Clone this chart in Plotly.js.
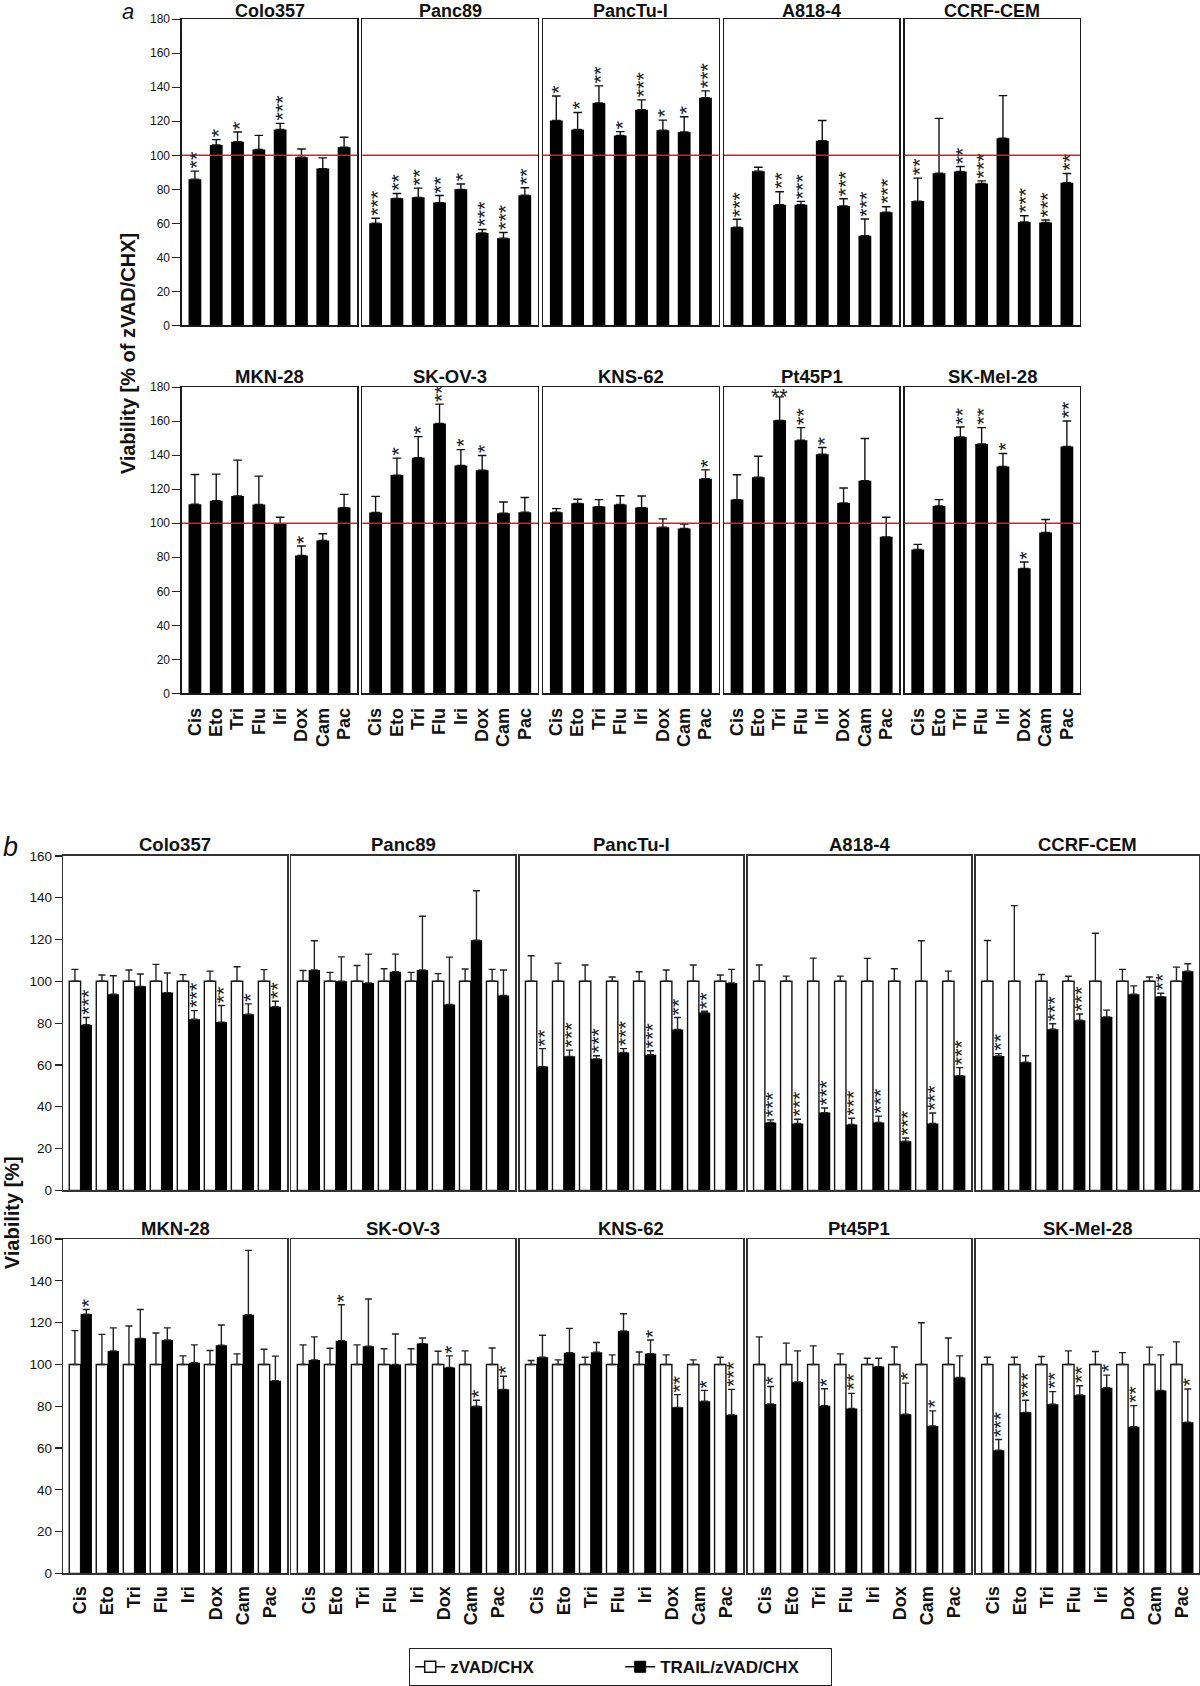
<!DOCTYPE html>
<html><head><meta charset="utf-8">
<script src="https://cdn.plot.ly/plotly-3.0.1.min.js"></script>
<style>html,body{margin:0;padding:0;background:#fff}</style>
</head><body>
<div id="chart" style="width:1200px;height:1686px"></div>
<script>
// ---------------- DATA ----------------
const drugs = ['Cis','Eto','Tri','Flu','Iri','Dox','Cam','Pac'];
const cellLines = ['Colo357','Panc89','PancTu-I','A818-4','CCRF-CEM','MKN-28','SK-OV-3','KNS-62','Pt45P1','SK-Mel-28'];
const seriesNames = ['zVAD/CHX','TRAIL/zVAD/CHX'];
const panelLetters = ['a','b'];
const yTitleA = 'Viability [% of zVAD/CHX]';
const yTitleB = 'Viability [%]';
const referenceLevel = 100;
const yMaxA = 180, yMaxB = 160;

// Panel a: TRAIL/zVAD/CHX viability as % of zVAD/CHX (mean, SD, significance stars)
const aMean = [
  [86.0,106.1,108.0,103.4,115.2,98.9,92.2,104.7],
  [60.1,74.7,75.3,72.2,80.0,54.4,51.3,76.6],
  [120.5,115.2,130.8,111.7,126.8,114.7,113.7,133.8],
  [57.7,90.7,71.0,71.0,108.6,70.2,52.7,66.5],
  [73.1,89.5,90.5,83.5,110.0,60.8,60.5,83.9],
  [111.2,113.3,116.0,111.0,99.8,81.1,89.9,109.2],
  [106.3,128.3,138.5,158.7,134.0,131.2,105.9,106.5],
  [106.5,111.7,109.8,111.0,109.2,97.7,96.9,126.2],
  [113.9,127.1,160.5,148.8,140.6,111.9,125.0,92.0],
  [84.6,110.2,150.7,146.6,133.4,73.5,94.6,145.1]
];
const aSD = [
  [4.7,3.1,5.7,8.3,3.6,4.8,6.3,5.9],
  [2.9,2.9,5.4,4.2,3.1,2.0,3.3,4.3],
  [14.4,10.0,10.0,2.2,5.8,6.0,9.0,4.1],
  [4.7,2.3,7.6,1.9,11.9,4.3,9.9,3.3],
  [13.5,32.2,2.9,1.5,25.1,3.7,1.5,5.4],
  [17.5,15.6,21.1,16.7,3.7,5.5,3.9,7.8],
  [9.5,10.0,12.4,11.3,9.3,8.6,6.6,8.6],
  [2.1,2.4,4.1,5.2,6.8,4.9,2.6,5.2],
  [14.6,12.3,13.8,7.4,3.9,8.8,24.8,11.5],
  [3.0,3.7,5.9,9.6,7.6,3.7,7.6,15.0]
];
// '' none, 'n' = n stars stacked vertically, 'hn' = n stars side by side
const aSig = [
  ['2','1','1','','3','','',''],
  ['3','2','2','2','1','3','3','2'],
  ['1','1','2','1','3','1','1','3'],
  ['3','','2','3','','3','3','3'],
  ['2','','2','3','','3','3','2'],
  ['','','','','','1','',''],
  ['','1','1','2','1','1','',''],
  ['','','','','','','','1'],
  ['','','h2','2','1','','',''],
  ['','','2','2','1','1','','2']
];

// Panel b: zVAD/CHX (control = 100 %) SD; TRAIL/zVAD/CHX mean, SD, significance
const bCtrlSD = [
  [5.7,3.0,5.4,8.1,3.2,4.9,7.0,5.6],
  [5.2,4.3,7.6,6.0,4.3,3.7,5.9,5.7],
  [12.2,8.7,7.8,2.1,4.6,5.4,7.8,3.0],
  [7.8,2.5,11.1,2.5,11.0,6.0,19.4,4.9],
  [19.5,36.2,3.3,2.4,23.0,5.7,2.1,6.8],
  [16.2,14.4,18.4,15.1,4.1,6.7,5.1,7.3],
  [9.4,7.8,9.4,7.5,7.5,6.3,6.5,7.9],
  [1.9,2.2,3.5,4.6,6.0,4.6,2.2,3.5],
  [13.2,10.2,8.9,5.1,3.0,8.4,20.0,12.7],
  [3.5,3.5,3.8,6.5,6.2,5.7,8.3,10.8]
];
const bMean = [
  [79.2,93.8,97.6,94.6,81.9,80.5,84.3,87.8],
  [105.4,100.0,99.2,104.6,105.4,88.9,119.7,93.2],
  [59.2,64.1,62.9,66.0,64.9,77.0,85.1,99.2],
  [32.5,32.0,37.2,31.5,32.5,23.5,32.0,54.9],
  [64.3,61.3,77.1,81.4,83.0,93.8,92.7,104.8],
  [124.1,106.5,112.5,111.7,100.8,109.2,123.8,92.2],
  [102.2,111.4,108.7,100.0,110.0,98.6,80.0,88.1],
  [103.5,105.6,105.9,116.0,105.2,79.5,82.4,75.9],
  [81.1,91.6,80.3,79.0,99.0,76.2,70.6,93.8],
  [59.0,77.1,81.0,85.4,88.9,70.2,87.6,72.4]
];
const bSD = [
  [3.5,8.9,5.9,9.4,4.1,7.9,4.9,2.7],
  [14.0,11.7,13.8,8.4,25.7,22.7,23.6,12.2],
  [8.6,3.0,1.5,1.8,1.9,5.7,0.6,6.5],
  [1.2,2.0,2.2,3.0,3.0,1.5,5.0,3.8],
  [1.1,3.1,2.6,3.0,3.2,4.0,1.6,3.6],
  [2.2,11.0,13.8,5.8,8.6,9.7,30.8,11.8],
  [11.0,17.2,22.6,14.6,2.7,5.5,2.9,6.3],
  [10.5,11.7,4.6,8.3,6.5,6.1,5.2,12.2],
  [8.4,14.9,8.1,7.2,4.0,14.9,7.2,10.3],
  [5.1,5.8,6.0,4.4,6.0,10.1,17.0,15.9]
];
const bSig = [
  ['3','','','','3','2','1','2'],
  ['','','','','','','',''],
  ['2','3','3','3','3','2','2',''],
  ['3','3','3','3','3','3','3','3'],
  ['2','','3','3','','','2',''],
  ['1','','','','','','',''],
  ['','1','','','','1','1','1'],
  ['','','','','1','2','1','3'],
  ['1','','1','2','','1','1',''],
  ['3','3','2','2','1','2','','1']
];

// ---------------- LAYOUT GEOMETRY (pixels) ----------------
const W = 1200, H = 1686;
const FONT = 'Liberation Sans, Arial, sans-serif';
const geo = {
  a: {left0: 181.7, step: 180.7, width: 175.6, rows: [[19.3, 327], [389, 696.7]], ymax: yMaxA, range: [-0.62, 7.62], barW: 0.6},
  b: {left0: 63.3, step: 228.1, width: 223.7, rows: [[860, 1196], [1245, 1581]], ymax: yMaxB, range: [-0.64, 7.64], barW: 0.42}
};
const px2x = p => p / W;
const px2y = p => 1 - p / H;

const traces = [];
const layout = {
  width: W, height: H,
  margin: {l: 0, r: 0, t: 0, b: 0},
  paper_bgcolor: '#fff', plot_bgcolor: '#fff',
  font: {family: FONT, color: '#111'},
  barmode: 'overlay',
  showlegend: true,
  legend: {
    orientation: 'h', x: px2x(409), xanchor: 'left', y: px2y(1656), yanchor: 'top',
    bordercolor: '#222', borderwidth: 1.2, bgcolor: '#fff',
    font: {family: FONT, size: 17, weight: 'bold', color: '#111'},
    entrywidth: 165, itemwidth: 30, tracegroupgap: 0
  },
  annotations: [], shapes: []
};

const STAR_FONT = 21.5;
function addStars(xn, yn, means, sds, sigs, xOffset) {
  drugs.forEach((d, i) => {
    const s = sigs[i];
    if (!s) return;
    const top = means[i] + sds[i];
    if (s[0] === 'h') {
      const n = parseInt(s.slice(1));
      layout.annotations.push({
        xref: xn, yref: yn, x: i + xOffset, y: top, text: '*'.repeat(n),
        showarrow: false, xanchor: 'center', yanchor: 'middle', yshift: 0, borderpad: 0,
        font: {family: FONT, size: STAR_FONT, color: '#222'}
      });
    } else {
      const n = parseInt(s);
      layout.annotations.push({
        xref: xn, yref: yn, x: i + xOffset, y: top, text: '*'.repeat(n), textangle: -90,
        showarrow: false, xanchor: 'center', yanchor: 'bottom', xshift: 2.4, yshift: 1.5, borderpad: 0,
        height: 14, valign: 'middle',
        font: {family: FONT, size: STAR_FONT, color: '#222'}
      });
    }
  });
}

for (let k = 0; k < 20; k++) {
  const panel = k < 10 ? 'a' : 'b';
  const g = geo[panel];
  const idx = k % 10;
  const row = idx < 5 ? 0 : 1;
  const col = idx % 5;
  const n = k + 1;
  const xn = n === 1 ? 'x' : 'x' + n;
  const yn = n === 1 ? 'y' : 'y' + n;
  const xl = g.left0 + col * g.step, xr = xl + g.width;
  const [yt, yb] = g.rows[row];
  const lineCol = panel === 'a' ? '#1a1a1a' : '#333';

  layout['xaxis' + (n === 1 ? '' : n)] = {
    domain: [px2x(xl), px2x(xr)], anchor: yn,
    type: 'category', categoryarray: drugs, categoryorder: 'array',
    tickmode: 'array', tickvals: drugs, ticktext: drugs,
    range: g.range, showgrid: false, zeroline: false,
    showline: true, mirror: true, linecolor: lineCol, linewidth: panel === 'a' ? 1.3 : 1.5,
    ticks: '', showticklabels: row === 1, tickangle: -90,
    ticklabelstandoff: panel === 'a' ? 6 : 4,
    tickfont: {family: FONT, size: 18, weight: 'bold', color: '#111'},
    fixedrange: true
  };
  layout['yaxis' + (n === 1 ? '' : n)] = {
    domain: [px2y(yb), px2y(yt)], anchor: xn,
    range: [0, g.ymax], dtick: 20, tick0: 0,
    showgrid: false, zeroline: false,
    showline: true, mirror: true, linecolor: lineCol, linewidth: panel === 'a' ? 1.3 : 1.5,
    ticks: col === 0 ? 'outside' : '', ticklen: panel === 'a' ? 8 : 7, tickwidth: 1.2, tickcolor: '#222',
    showticklabels: col === 0,
    tickfont: {family: FONT, size: panel === 'a' ? 12 : 13.5, color: '#111'},
    fixedrange: true
  };

  // panel title (top row of panel a sits at the page edge)
  const topEdge = (panel === 'a' && row === 0);
  layout.annotations.push({
    text: '<b>' + cellLines[idx] + '</b>', xref: 'paper', yref: 'paper',
    x: px2x((xl + xr) / 2), y: px2y(topEdge ? 10.6 : yt - 11), xanchor: 'center', yanchor: 'middle', borderpad: 0,
    showarrow: false, font: {family: FONT, size: topEdge ? 18 : 18.5, color: '#111'}
  });

  if (panel === 'a') {
    traces.push({
      type: 'bar', x: drugs, y: aMean[idx], xaxis: xn, yaxis: yn,
      width: g.barW, offset: -g.barW / 2,
      marker: {color: '#000', line: {width: 0}},
      error_y: {type: 'data', symmetric: false, array: aSD[idx], arrayminus: drugs.map(() => 0),
        color: '#111', thickness: 1.4, width: 4.3},
      showlegend: false, hoverinfo: 'skip'
    });
    addStars(xn, yn, aMean[idx], aSD[idx], aSig[idx], 0);
    layout.shapes.push({
      type: 'line', xref: xn + ' domain', yref: yn, x0: 0, x1: 1, y0: referenceLevel, y1: referenceLevel,
      line: {color: '#d42222', width: 1.6}, layer: 'above'
    });
  } else {
    traces.push({
      type: 'bar', name: seriesNames[0], x: drugs, y: drugs.map(() => referenceLevel), xaxis: xn, yaxis: yn,
      width: g.barW, offset: -g.barW,
      marker: {color: '#fff', line: {color: '#111', width: 1.4}},
      error_y: {type: 'data', symmetric: false, array: bCtrlSD[idx], arrayminus: drugs.map(() => 0),
        color: '#222', thickness: 1.4, width: 3.5},
      showlegend: false, hoverinfo: 'skip'
    });
    traces.push({
      type: 'bar', name: seriesNames[1], x: drugs, y: bMean[idx], xaxis: xn, yaxis: yn,
      width: g.barW, offset: 0,
      marker: {color: '#000', line: {width: 0}},
      error_y: {type: 'data', symmetric: false, array: bSD[idx], arrayminus: drugs.map(() => 0),
        color: '#222', thickness: 1.4, width: 3.5},
      showlegend: false, hoverinfo: 'skip'
    });
    addStars(xn, yn, bMean[idx], bSD[idx], bSig[idx], g.barW / 2);
  }
}

// legend entries (symbol with error-bar style stub)
traces.push({
  type: 'scatter', mode: 'lines+markers', name: seriesNames[0], x: [null], y: [null], xaxis: 'x11', yaxis: 'y11',
  marker: {symbol: 'square', size: 11, color: '#fff', line: {color: '#111', width: 1.5}},
  line: {color: '#111', width: 1.3}, showlegend: true, hoverinfo: 'skip'
});
traces.push({
  type: 'scatter', mode: 'lines+markers', name: seriesNames[1], x: [null], y: [null], xaxis: 'x11', yaxis: 'y11',
  marker: {symbol: 'square', size: 11, color: '#000', line: {color: '#000', width: 1}},
  line: {color: '#111', width: 1.3}, showlegend: true, hoverinfo: 'skip'
});

// panel letters and y-axis titles
layout.annotations.push(
  {text: '<i>' + panelLetters[0] + '</i>', xref: 'paper', yref: 'paper', x: px2x(128), y: px2y(12),
   xanchor: 'center', yanchor: 'middle', showarrow: false, borderpad: 0, font: {family: FONT, size: 22, color: '#111'}},
  {text: '<i>' + panelLetters[1] + '</i>', xref: 'paper', yref: 'paper', x: px2x(10), y: px2y(851),
   xanchor: 'center', yanchor: 'middle', showarrow: false, font: {family: FONT, size: 27, color: '#111'}},
  {text: '<b>' + yTitleA + '</b>', xref: 'paper', yref: 'paper', x: px2x(128), y: px2y(355), textangle: -90,
   xanchor: 'center', yanchor: 'middle', showarrow: false, font: {family: FONT, size: 20, color: '#111'}},
  {text: '<b>' + yTitleB + '</b>', xref: 'paper', yref: 'paper', x: px2x(12), y: px2y(1219), textangle: -90,
   xanchor: 'center', yanchor: 'middle', showarrow: false, borderpad: 0, font: {family: FONT, size: 20, color: '#111'}}
);

Plotly.newPlot('chart', traces, layout, {staticPlot: true, displayModeBar: false});
</script>
</body></html>
